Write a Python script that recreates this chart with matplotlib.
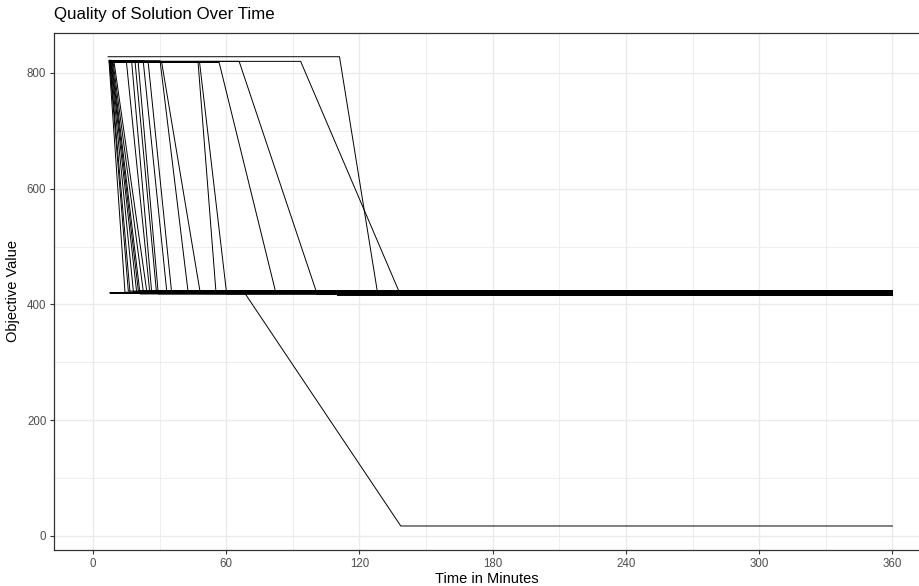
import matplotlib as mpl
import matplotlib.pyplot as plt

mpl.rcParams["font.family"] = ["Liberation Sans", "DejaVu Sans"]

# runs that start near 820 and fall to about 420
top_start = [7.2, 7.4, 7.6, 7.8, 8.0, 8.3, 8.6, 9.0, 9.4,
             7.4, 7.4, 7.4, 7.4, 7.4, 7.4, 7.4, 7.4, 7.4, 7.4, 7.4, 7.4, 6.8]
top_value = [821, 822, 820, 821, 822, 820, 821, 819, 821,
             821, 820, 821, 820, 821, 820, 821, 819, 819, 818, 818, 820, 828]
drop_time = [7.2, 7.4, 7.6, 7.8, 8.0, 8.3, 8.6, 9.0, 9.4,
             15.0, 17.4, 18.9, 20.3, 22.6, 24.8, 30.2, 30.9, 47.3, 48.0, 56.8, 65.8, 111.0]
low_time = [14.4, 15.9, 16.7, 18.2, 19.7, 20.4, 21.2, 22.7, 24.2,
            25.6, 26.4, 28.6, 29.4, 33.2, 35.4, 42.9, 48.2, 55.4, 60.2, 82.4, 101.0, 128.3]
low_value = [421, 423, 419, 422, 420, 424, 418, 421, 423,
             419, 422, 420, 418, 423, 421, 419, 422, 420, 418, 419, 417, 416]
end_time = [360] * 22

# one run that leaves the top at 93.5 and lands later than its neighbour
late_run_t = [7.5, 93.5, 138.5, 360]
late_run_v = [820, 820, 416, 416]

# runs that start already near 420
flat_start = [7.6, 7.6, 110.0]
flat_value = [421.5, 420, 416.5]
flat_end = [169, 360, 360]

# the run that improves a second time
best_run_t = [7.5, 68.6, 138.6, 360]
best_run_v = [420, 418, 17, 17]

fig = plt.figure(figsize=(9.2, 5.86), dpi=100)
# panel runs off the right edge in the original, so stop it at the figure edge
ax = fig.add_axes([54 / 920, 36 / 586, 866 / 920, 517 / 586])

line_kw = {"color": "black", "linewidth": 0.7}
for i in range(len(top_start)):
    ax.plot([top_start[i], drop_time[i], low_time[i], end_time[i]],
            [top_value[i], top_value[i], low_value[i], low_value[i]], **line_kw)
ax.plot(late_run_t, late_run_v, **line_kw)
for s, v, e in zip(flat_start, flat_value, flat_end):
    ax.plot([s, e], [v, v], **line_kw)
ax.plot(best_run_t, best_run_v, **line_kw)

ax.set_xticks(range(0, 361, 60))
ax.set_xticks(range(30, 361, 60), minor=True)
ax.set_yticks(range(0, 801, 200))
ax.set_yticks(range(100, 801, 200), minor=True)
# limits after the ticks, set_ticks would widen them otherwise
ax.set_xlim(-17.56, 372.4)
ax.set_ylim(-24.5, 869)

ax.grid(which="major", color="#EBEBEB", linewidth=1.0)
ax.grid(which="minor", color="#EBEBEB", linewidth=0.6)
ax.set_axisbelow(True)
for sp in ax.spines.values():
    sp.set_color("#333333")
    sp.set_linewidth(0.9)
ax.spines["right"].set_visible(False)
ax.tick_params(which="major", length=3, width=0.8, color="#333333",
               labelcolor="#4D4D4D", labelsize=8.3, pad=2.5)
ax.tick_params(which="minor", length=0)

ax.set_xlabel("Time in Minutes", fontsize=10.5, labelpad=2)
ax.set_ylabel("Objective Value", fontsize=10.5, labelpad=5)
fig.text(54 / 920, 1 - 14 / 586, "Quality of Solution Over Time",
         fontsize=12.2, ha="left", va="center")

plt.savefig("out.png", dpi=100)
plt.close(fig)
